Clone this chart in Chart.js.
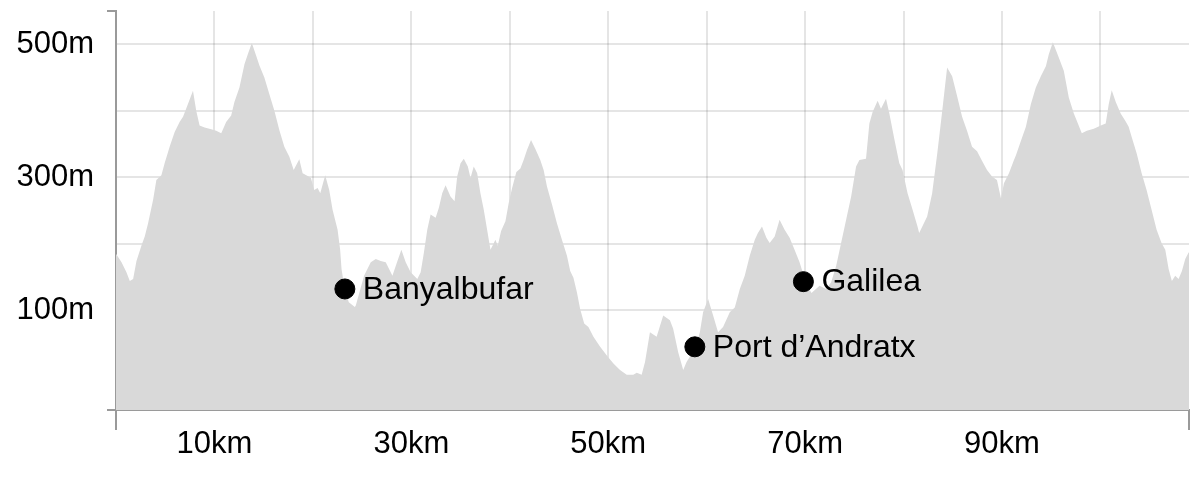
<!DOCTYPE html>
<html><head><meta charset="utf-8">
<script src="https://cdn.jsdelivr.net/npm/chart.js@4"></script>
<style>html,body{margin:0;padding:0;background:#fff}#wrap{width:1200px;height:500px}</style>
</head><body><div id="wrap"><canvas id="c" width="1200" height="500"></canvas></div>
<script>
const distanceKm = [0,0.56,1.06,1.40,1.74,2.08,2.58,2.92,3.26,3.77,4.10,4.61,4.94,5.45,5.96,6.46,6.81,7.31,7.82,8.15,8.49,9.00,9.67,10.18,10.69,11.19,11.70,12.03,12.54,13.05,13.39,13.80,14.23,14.57,15.07,15.58,16.09,16.59,17.10,17.61,18.05,18.62,18.96,19.47,19.80,20.14,20.48,20.75,21.25,21.66,22.00,22.51,22.77,22.91,23.25,23.65,24.26,24.36,25.20,25.88,26.39,26.89,27.40,27.74,28.08,28.59,28.99,29.43,29.93,30.61,30.95,31.28,31.62,31.96,32.47,32.80,33.14,33.48,33.98,34.39,34.66,35.00,35.33,35.74,36.01,36.34,36.69,37.02,37.36,37.70,38.04,38.31,38.54,38.78,39.12,39.56,39.89,40.24,40.67,41.08,41.41,41.75,42.16,42.59,43.10,43.44,43.78,44.29,44.79,45.30,45.81,46.14,46.47,46.82,47.15,47.56,47.99,48.50,49.18,49.86,50.53,51.20,51.88,52.55,52.90,53.40,53.74,54.24,54.92,55.59,56.27,56.60,57.11,57.62,57.96,58.50,59.00,59.31,59.64,60.15,60.66,61.16,61.67,62.35,62.86,63.37,63.87,64.38,64.89,65.21,65.62,66.07,66.40,66.91,67.41,67.92,68.43,68.93,69.44,70.12,70.65,71.47,72.14,72.65,73.16,73.66,74.17,74.68,75.18,75.52,76.19,76.53,76.86,77.37,77.71,78.22,78.56,79.06,79.57,79.90,80.41,80.92,81.42,81.59,82.40,82.91,83.42,83.92,84.43,84.94,85.44,85.95,86.45,86.96,87.47,87.97,88.48,88.99,89.49,89.90,90.20,90.71,91.22,91.42,91.93,92.43,92.94,93.44,93.95,94.46,94.76,95.17,95.77,96.28,96.79,97.30,97.60,98.11,98.62,99.33,100.04,100.54,100.85,101.15,101.56,102.06,102.57,102.87,103.17,103.68,104.19,104.69,105.20,105.71,106.21,106.59,106.93,107.26,107.60,107.94,108.28,108.62,108.96,109];
const elevationM = [185,172,157,144,147,174,197,211,231,266,296,303,321,346,368,383,391,410,430,400,378,375,372,370,366,383,393,413,435,470,485,502,483,468,450,425,400,371,346,331,311,327,306,302,299,281,284,276,303,281,251,221,191,162,130,112,105,107,152,172,177,174,172,162,152,174,191,172,157,147,157,187,221,244,239,254,276,288,271,264,301,321,328,316,299,316,306,276,251,221,191,199,206,197,219,234,261,284,308,313,326,341,356,343,326,311,286,259,231,206,182,159,149,127,102,80,75,60,45,32,20,10,3,3,6,3,22,67,60,92,85,72,37,10,22,35,50,67,97,117,92,67,75,97,104,132,152,182,206,216,226,209,201,211,236,221,209,191,172,140,126,137,132,142,167,201,236,271,316,326,328,381,398,415,403,418,396,358,321,311,276,251,226,216,241,276,335,398,465,452,422,391,370,346,339,325,311,301,296,268,291,306,326,333,355,376,410,435,452,467,485,503,480,460,420,396,385,366,370,373,378,381,410,431,413,396,384,376,361,336,306,281,251,221,201,191,162,144,152,147,159,177,187,187];
const placeNames = ['Banyalbufar', 'Port d\u2019Andratx', 'Galilea'];
const placeKm = [23.25, 58.8, 69.83];
const placeElevM = [132, 45, 143];
const xTickKm = [0,10,20,30,40,50,60,70,80,90,100,109];
const xLabelKm = [10,30,50,70,90];
const yTickM = [-50,0,100,200,300,400,500,550];
const yLabelM = [100,300,500];

const FONT = "'Liberation Sans', Arial, sans-serif";
Chart.defaults.font.family = FONT;

const profile = distanceKm.map((d, i) => ({x: d, y: elevationM[i]}));
const places = placeKm.map((d, i) => ({x: d, y: placeElevM[i]}));

const AXIS = '#9a9a9a';
const GRID = 'rgba(0,0,0,0.1)';
const CLEAR = 'rgba(0,0,0,0)';

const placeLabelPlugin = {
  id: 'placeLabels',
  afterDraw(chart) {
    const meta = chart.getDatasetMeta(1);
    const ctx = chart.ctx;
    ctx.save();
    ctx.font = '32px ' + FONT;
    ctx.fillStyle = '#000';
    ctx.textAlign = 'left';
    ctx.textBaseline = 'middle';
    meta.data.forEach((pt, i) => {
      ctx.fillText(placeNames[i], pt.x + 18, pt.y + 1);
    });
    ctx.restore();
  }
};

new Chart(document.getElementById('c'), {
  type: 'line',
  data: {
    datasets: [
      {
        type: 'line',
        order: 2,
        data: profile,
        fill: 'start',
        backgroundColor: '#d9d9d9',
        borderColor: 'rgba(0,0,0,0)',
        borderWidth: 0,
        pointRadius: 0,
        tension: 0
      },
      {
        type: 'scatter',
        order: 1,
        data: places,
        backgroundColor: '#000',
        borderColor: '#000',
        borderWidth: 1,
        pointStyle: 'circle',
        pointRadius: 10,
        pointHoverRadius: 10,
        clip: false
      }
    ]
  },
  options: {
    responsive: false,
    animation: false,
    events: [],
    layout: {padding: {top: 7, right: 9, left: 0, bottom: 0}},
    plugins: {legend: {display: false}, tooltip: {enabled: false}},
    scales: {
      x: {
        type: 'linear',
        min: 0,
        max: 109,
        z: 1,
        afterBuildTicks(scale) { scale.ticks = xTickKm.map(v => ({value: v})); },
        afterFit(scale) { scale.height = 90; scale.paddingLeft = 0; scale.paddingRight = 0; },
        border: {color: AXIS, width: 2},
        grid: {
          color: c => (c.tick && (c.tick.value === 0 || c.tick.value === 109)) ? CLEAR : GRID,
          lineWidth: 2,
          tickLength: 20,
          tickWidth: 2,
          tickColor: c => (c.tick && (c.tick.value === 0 || c.tick.value === 109)) ? AXIS : CLEAR
        },
        ticks: {
          autoSkip: false,
          maxRotation: 0,
          padding: -4,
          color: '#000',
          font: {size: 31},
          callback: v => xLabelKm.includes(v) ? v + 'km' : ''
        }
      },
      y: {
        min: -50,
        max: 550,
        z: 1,
        afterBuildTicks(scale) { scale.ticks = yTickM.map(v => ({value: v})); },
        afterFit(scale) { scale.width = 116; scale.paddingTop = 0; scale.paddingBottom = 0; },
        border: {color: AXIS, width: 2},
        grid: {
          color: c => (c.tick && (c.tick.value === -50 || c.tick.value === 550)) ? CLEAR : GRID,
          lineWidth: 2,
          tickLength: 9,
          tickWidth: 2,
          tickColor: c => (c.tick && (c.tick.value === -50 || c.tick.value === 550)) ? AXIS : CLEAR
        },
        ticks: {
          autoSkip: false,
          padding: 13,
          color: '#000',
          font: {size: 31},
          callback: v => yLabelM.includes(v) ? v + 'm' : ''
        }
      }
    }
  },
  plugins: [placeLabelPlugin]
});
</script>
</body></html>
